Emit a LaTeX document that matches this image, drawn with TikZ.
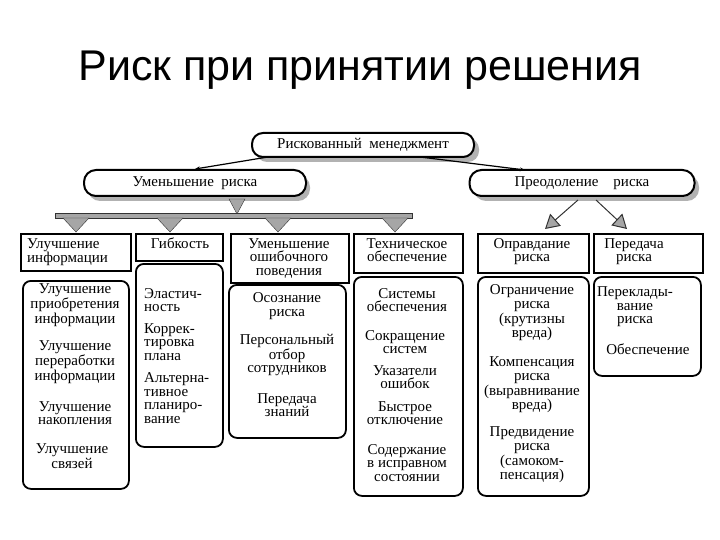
\documentclass[tikz,border=0pt]{standalone}
\usepackage{fontspec}
\setmainfont{Liberation Serif}
\newfontfamily\titlefont{Liberation Sans}
\usetikzlibrary{arrows.meta}
\begin{document}
\begin{tikzpicture}[x=1pt,y=-1pt,
  oval/.style={draw,line width=2pt,rounded corners=11pt,inner sep=0pt,font=\fontsize{15}{15}\selectfont},
  hbox/.style={draw,line width=2.2pt,inner sep=0pt,anchor=north west,align=center},
  lbox/.style={draw,line width=1.8pt,rounded corners=8pt,inner sep=0pt,anchor=north west},
  txt/.style={align=center,font=\fontsize{15}{13.5}\selectfont,inner sep=0pt},
  gr/.style={fill=gray!70,draw=gray!40!black,line width=0.4pt}]
\useasboundingbox (0,0) rectangle (720,540);
\node[font=\titlefont\fontsize{43}{43}\selectfont] (title) at (360,70) {Риск при принятии решения};
% shadows
\fill[gray!60,rounded corners=12pt] (88,175) rectangle (310,201);
\fill[gray!60,rounded corners=12pt] (474,175) rectangle (699,201);
\fill[gray!60,rounded corners=11pt] (256,138) rectangle (479,162);
\node[oval,fill=white,minimum width=222pt,minimum height=24pt] (top) at (363,145) {Рискованный\ \ менеджмент};
\node[oval,fill=white,minimum width=222pt,minimum height=26pt,rounded corners=12pt] (red) at (195,183) {Уменьшение\ \ риска};
\node[oval,fill=white,minimum width=225pt,minimum height=26pt,rounded corners=12pt] (over) at (582,183) {Преодоление\quad риска};
\coordinate (t1) at (268,157);
\coordinate (t2) at (420,157);
\coordinate (o1) at (525,170);
\draw[line width=1.2pt,-{Stealth[length=5pt]}] (t1) -- (red.north);
\draw[line width=1.2pt,-{Stealth[length=5pt]}] (t2) -- (o1);
% grey arrows left
\draw[gr] (229,199) -- (245,199) -- (237,214) -- cycle;
\draw[gr] (55,213) rectangle (412,218);
\foreach \xx in {76,170,278,395}{
  \draw[gr] (\xx-13,218) -- (\xx+13,218) -- (\xx,232) -- cycle;}
% grey arrows right
\coordinate (ra) at (578,200);
\coordinate (rb) at (596,200);
\coordinate (ra2) at (545,229);
\coordinate (rb2) at (627,229);
\draw[line width=1pt,gray!40!black,-{Triangle[length=14pt,width=16pt,fill=gray!70]}] (ra) -- (ra2);
\draw[line width=1pt,gray!40!black,-{Triangle[length=14pt,width=16pt,fill=gray!70]}] (rb) -- (rb2);
% header boxes
\node[hbox,minimum width=110pt,minimum height=37pt] (h1) at (20,233) {};
\node[txt,anchor=north west,align=left] (h1t) at (27,238) {Улучшение\\информации};
\node[hbox,minimum width=87pt,minimum height=27pt] (h2) at (135,233) {};
\node[txt,anchor=north] (h2t) at (180,238) {Гибкость};
\node[hbox,minimum width=118pt,minimum height=49pt] (h3) at (230,233) {};
\node[txt,anchor=north] (h3t) at (289,238) {Уменьшение\\ошибочного\\поведения};
\node[hbox,minimum width=109pt,minimum height=39pt] (h4) at (353,233) {};
\node[txt,anchor=north] (h4t) at (407,238) {Техническое\\обеспечение};
\node[hbox,minimum width=111pt,minimum height=39pt] (h5) at (477,233) {};
\node[txt,anchor=north] (h5t) at (532,238) {Оправдание\\риска};
\node[hbox,minimum width=109pt,minimum height=39pt] (h6) at (593,233) {};
\node[txt,anchor=north] (h6t) at (634,238) {Передача\\риска};
% lower boxes
\node[lbox,minimum width=106pt,minimum height=208pt] (l1) at (22,280) {};
\node[lbox,minimum width=87pt,minimum height=183pt] (l2) at (135,263) {};
\node[lbox,minimum width=117pt,minimum height=153pt] (l3) at (228,284) {};
\node[lbox,minimum width=109pt,minimum height=219pt] (l4) at (353,276) {};
\node[lbox,minimum width=111pt,minimum height=219pt] (l5) at (477,276) {};
\node[lbox,minimum width=107pt,minimum height=99pt] (l6) at (593,276) {};
% box 1 texts
\node[txt] (a1) at (75,305) {Улучшение\\приобретения\\информации};
\node[txt] (a2) at (75,362) {Улучшение\\переработки\\информации};
\node[txt] (a3) at (75,413) {Улучшение\\накопления};
\node[txt] (a4) at (72,456) {Улучшение\\связей};
% box 2
\node[txt,align=left,anchor=west] (b1) at (144,300) {Эластич-\\ность};
\node[txt,align=left,anchor=west] (b2) at (144,342) {Коррек-\\тировка\\плана};
\node[txt,align=left,anchor=west] (b3) at (144,398) {Альтерна-\\тивное\\планиро-\\вание};
% box 3
\node[txt] (c1) at (287,306) {Осознание\\риска};
\node[txt] (c2) at (287,355) {Персональный\\отбор\\сотрудников};
\node[txt] (c3) at (287,405) {Передача\\знаний};
% box 4
\node[txt] (d1) at (407,300) {Системы\\обеспечения};
\node[txt] (d2) at (405,342) {Сокращение\\систем};
\node[txt] (d3) at (405,377) {Указатели\\ошибок};
\node[txt] (d4) at (405,413) {Быстрое\\отключение};
\node[txt] (d5) at (407,463) {Содержание\\в исправном\\состоянии};
% box 5
\node[txt] (e1) at (532,313) {Ограничение\\риска\\(крутизны\\вреда)};
\node[txt] (e2) at (532,385) {Компенсация\\риска\\(выравнивание\\вреда)};
\node[txt] (e3) at (532,455) {Предвидение\\риска\\(самоком-\\пенсация)};
% box 6
\node[txt] (f1) at (635,307) {Переклады-\\вание\\риска};
\node[txt] (f2) at (648,349) {Обеспечение};
\end{tikzpicture}
\end{document}
